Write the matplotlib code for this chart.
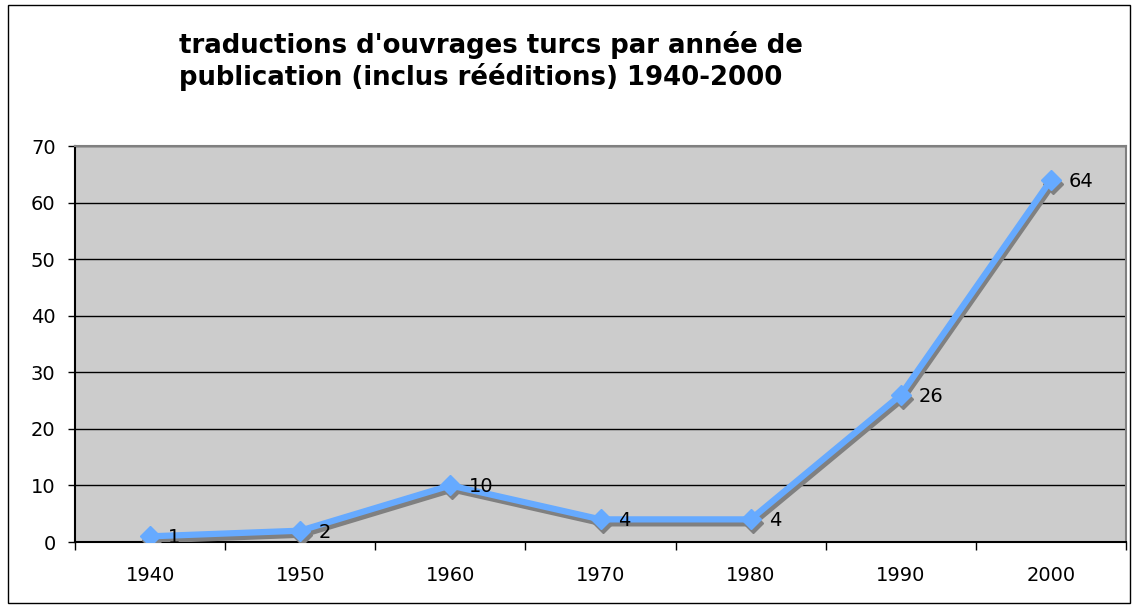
import matplotlib
matplotlib.use("Agg")
import matplotlib.pyplot as plt
import matplotlib.transforms as mtransforms
from matplotlib.patches import Rectangle

years = ["1940", "1950", "1960", "1970", "1980", "1990", "2000"]
counts = [1, 2, 10, 4, 4, 26, 64]
title = "traductions d'ouvrages turcs par année de\npublication (inclus rééditions) 1940-2000"

W, H = 1138, 608
fig = plt.figure(figsize=(W / 100, H / 100), dpi=100)
fig.patch.set_facecolor("white")
fig.patches.append(Rectangle((8 / W, 5 / H), (1130 - 8) / W, (603 - 5) / H,
                             transform=fig.transFigure, fill=False,
                             edgecolor="black", linewidth=1.0))

left, right, top, bottom = 75, 1126, 146, 542
ax = fig.add_axes([left / W, 1 - bottom / H, (right - left) / W, (bottom - top) / H])
ax.set_facecolor("#CCCCCC")

x = list(range(len(years)))
shadow = mtransforms.offset_copy(ax.transData, fig=fig, x=2, y=-4, units="dots")
ax.plot(x, counts, color="#808080", linewidth=4.5, marker="D", markersize=10,
        transform=shadow, zorder=3, solid_joinstyle="miter")
ax.plot(x, counts, color="#66AAFF", linewidth=4.5, marker="D", markersize=10,
        zorder=4, solid_joinstyle="miter")

for xi, v in zip(x, counts):
    ax.annotate(str(v), (xi, v), xytext=(13, -1), textcoords="offset points",
                ha="left", va="center", fontsize=14, color="black", zorder=5)

ax.set_xlim(-0.5, len(years) - 0.5)
ax.set_ylim(0, 70)
ax.set_yticks(range(0, 71, 10))
ax.set_yticklabels([str(v) for v in range(0, 71, 10)])
ax.yaxis.grid(True, color="black", linewidth=1.0)
ax.set_axisbelow(True)

ax.set_xticks([i + 0.5 for i in range(-1, len(years))], minor=False)
ax.set_xticklabels([""] * (len(years) + 1))
ax.set_xticks(x, minor=True)
ax.set_xticklabels(years, minor=True)
ax.tick_params(axis="x", which="major", direction="out", length=6, width=1, color="black")
ax.tick_params(axis="x", which="minor", length=0, pad=17, labelsize=14)
ax.tick_params(axis="y", direction="out", length=5, width=1, pad=9, labelsize=14)

for s in ["left", "bottom"]:
    ax.spines[s].set_color("black")
    ax.spines[s].set_linewidth(1.5)
for s in ["top", "right"]:
    ax.spines[s].set_color("#808080")
    ax.spines[s].set_linewidth(1.5)

fig.text(179 / W, 1 - 61 / H, title, ha="left", va="center", fontsize=18.7,
         fontweight="bold", linespacing=1.22, multialignment="left")

fig.savefig("out.png", dpi=100)
